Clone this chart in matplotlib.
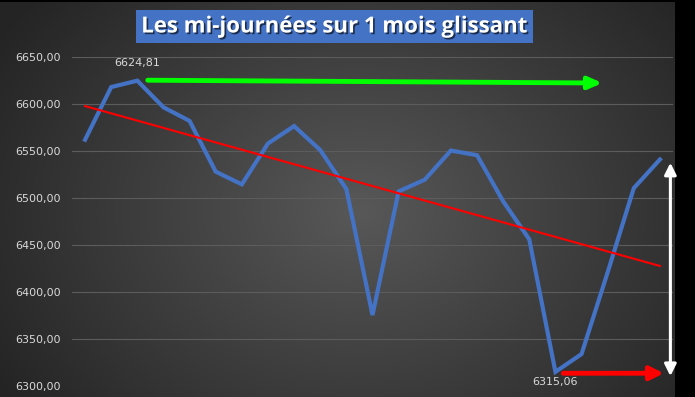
import numpy as np
import matplotlib
matplotlib.use("Agg")
from matplotlib import pyplot as plt
from matplotlib.patches import Rectangle
import matplotlib.patheffects as pe
from matplotlib.ticker import FuncFormatter

# mid-day values over the sliding month
values = [6562.0, 6618.0, 6624.81, 6596.5, 6582.0, 6528.0, 6514.5, 6558.0,
          6576.5, 6551.0, 6509.5, 6375.5, 6507.0, 6519.5, 6550.5, 6545.5,
          6496.5, 6456.0, 6315.06, 6334.0, 6421.0, 6510.5, 6541.0]
y_ticks = [6300, 6350, 6400, 6450, 6500, 6550, 6600, 6650]
title = "Les mi-journées sur 1 mois glissant"

W, H = 695, 397
fig = plt.figure(figsize=(W / 100, H / 100), dpi=100)
fig.patch.set_facecolor("black")

# background: radial grey gradient on the chart area, black strip on the right
bg = fig.add_axes([0, 0, 1, 1])
bg.set_xlim(0, W)
bg.set_ylim(H, 0)
bg.axis("off")
xx, yy = np.meshgrid(np.linspace(0, 675, 300), np.linspace(0, H, 200))
r = np.sqrt(((xx - 360) / 420) ** 2 + ((yy - 210) / 330) ** 2)
r = np.clip(r, 0, 1)
shade = 0.345 - 0.20 * r
img = np.dstack([shade, shade, shade])
bg.imshow(img, extent=[0, 675, H, 2], aspect="auto", interpolation="bilinear")

# title box
bg.add_patch(Rectangle((136, 10), 397, 33, facecolor="#4472C4", edgecolor="none"))
bg.text(334.5, 27, title, color="white", fontsize=16, fontweight="bold",
        family="Open Sans", ha="center", va="center",
        path_effects=[pe.withSimplePatchShadow(offset=(1.2, -1.2), shadow_rgbFace="black", alpha=0.6)])

# main plot area
ax = fig.add_axes([72 / W, (H - 386) / H, 601 / W, 329 / H])
ax.patch.set_alpha(0)
x = np.arange(len(values))
ax.set_xlim(-0.5, len(values) - 0.5)
ax.set_ylim(y_ticks[0], y_ticks[-1])
ax.set_yticks(y_ticks)
ax.yaxis.set_major_formatter(FuncFormatter(lambda v, p: f"{v:.2f}".replace(".", ",")))
ax.set_xticks([])
ax.tick_params(axis="y", length=0, pad=8, labelsize=8, labelcolor="#D9D9D9")
for s in ax.spines.values():
    s.set_visible(False)
ax.grid(True, axis="y", color="#5C5C5C", lw=0.8)
ax.set_axisbelow(True)

ax.plot(x, values, color="#4472C4", lw=3, solid_joinstyle="miter", clip_on=False, zorder=3)

# linear trend line
coef = np.polyfit(x, values, 1)
ax.plot(x, np.polyval(coef, x), color="#FF0000", lw=1.5, zorder=4)

# data labels for max and min
i_max = int(np.argmax(values))
i_min = int(np.argmin(values))
ax.annotate(f"{values[i_max]:.2f}".replace(".", ","), (x[i_max], values[i_max]),
            xytext=(0, 9), textcoords="offset points", ha="center", va="bottom",
            fontsize=8, color="#D9D9D9")
ax.annotate(f"{values[i_min]:.2f}".replace(".", ","), (x[i_min], values[i_min]),
            xytext=(0, -4), textcoords="offset points", ha="center", va="top",
            fontsize=8, color="#D9D9D9", annotation_clip=False)

# arrows
ax.annotate("", xy=(19.8, values[i_max] - 2.5), xytext=(2.4, values[i_max] + 0.5),
            arrowprops=dict(arrowstyle="-|>,head_length=0.8,head_width=0.35",
                            color="#00FF00", lw=3.5, shrinkA=0, shrinkB=0))
ax.annotate("", xy=(22.15, values[i_min] - 1.5), xytext=(18.3, values[i_min] - 1.5),
            arrowprops=dict(arrowstyle="-|>,head_length=0.8,head_width=0.4",
                            color="#FF0000", lw=3.5, shrinkA=0, shrinkB=0),
            annotation_clip=False)
ax.annotate("", xy=(22.4, values[-1] - 3.5), xytext=(22.4, values[i_min] - 4.5),
            arrowprops=dict(arrowstyle="<|-|>,head_length=0.7,head_width=0.35",
                            color="white", lw=2.2, shrinkA=0, shrinkB=0),
            annotation_clip=False)

fig.savefig("out.png", dpi=100, facecolor=fig.get_facecolor())
